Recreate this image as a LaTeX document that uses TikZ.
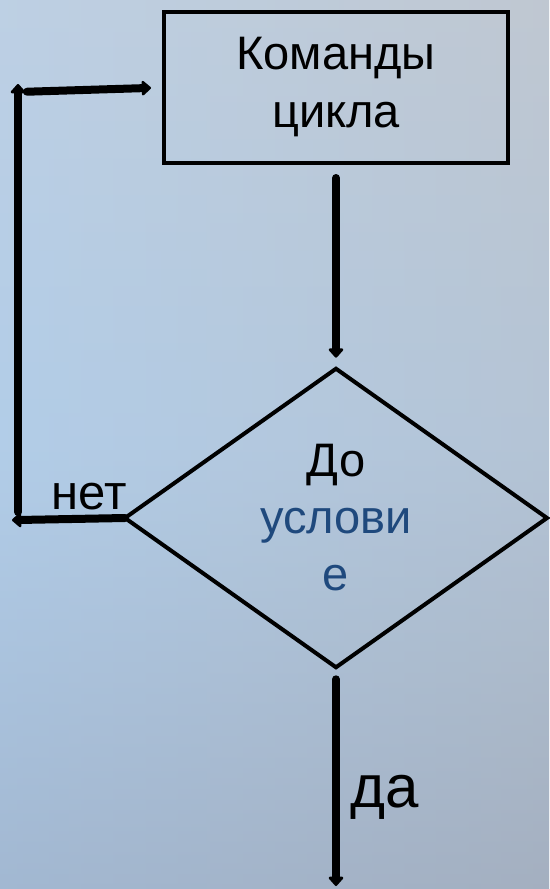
\documentclass[tikz,border=0pt]{standalone}
\usepackage{fontspec}
\setmainfont{Liberation Sans}
\usetikzlibrary{shapes.geometric,arrows.meta}

\definecolor{condblue}{RGB}{31,73,125}
\definecolor{skytop}{RGB}{202,212,224}
\definecolor{skymid}{RGB}{178,205,232}
\definecolor{deskgray}{RGB}{182,188,196}
\definecolor{floorblue}{RGB}{146,163,188}

\tikzset{
  flowbox/.style={draw, line width=4.5pt, rectangle, minimum width=344pt, minimum height=151pt,
    inner sep=0pt, outer sep=0pt, align=center, font=\fontsize{47}{58}\selectfont},
  condbox/.style={draw, line width=4pt, diamond, minimum width=422pt, minimum height=290pt,
    inner sep=0pt, outer sep=0pt, align=center, font=\fontsize{47}{57}\selectfont},
  flowarrow/.style={line width=8pt, line cap=round, -{Triangle[width=17pt,length=10pt,round]}},
  flowlabel/.style={font=\fontsize{49}{58}\selectfont, inner sep=0pt, anchor=base},
}

\begin{document}
\begin{tikzpicture}[x=1pt, y=-1pt]
        \useasboundingbox (0,0) rectangle (549,889);
        % background
        \shade[top color=skytop, bottom color=floorblue, middle color=skymid] (0,0) rectangle (549,889);
        \shade[left color=skymid, right color=deskgray, fill opacity=0.5] (0,0) rectangle (549,889);

        \node[flowbox] (body) at (336,87.5) {Команды\\цикла};
        \node[condbox] (cond) at (336,518) {До\\\textcolor{condblue}{услови}\\\textcolor{condblue}{е}};

        \coordinate (lowcorner) at (18,520);
        \coordinate (highcorner) at (18,92);
        \coordinate (exit) at (336,886);

        \draw[flowarrow, shorten <=15pt, shorten >=11pt] (body.south) -- (cond.north);
        \draw[flowarrow, shorten <=12pt] (cond.south) -- (exit);

        %\draw[flowarrow] (cond.west) -| (highcorner) -- (body.west);
        \draw[flowarrow, shorten >=-6pt] (cond.west) -- (lowcorner);
        \draw[flowarrow, shorten <=8pt, shorten >=-8pt] (lowcorner) -- (highcorner);
        \draw[flowarrow, shorten <=9pt, shorten >=13pt] (highcorner) -- (body.west);

        \node[flowlabel] (no) at (89,509) {нет};
        \node[flowlabel, font=\fontsize{60}{70}\selectfont] (yes) at (385,807) {да};
\end{tikzpicture}
\end{document}
